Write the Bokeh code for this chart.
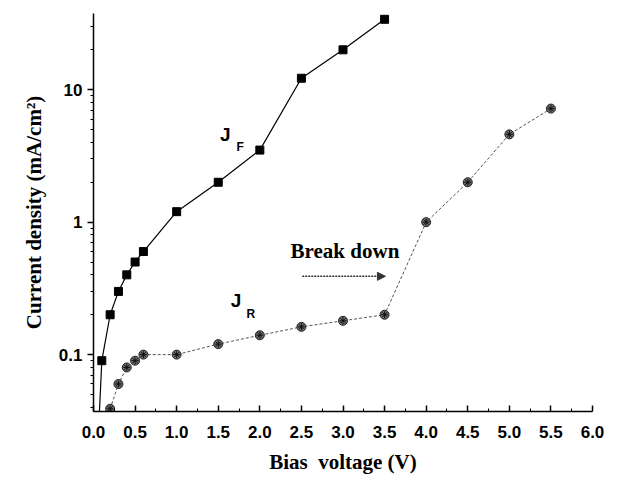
from bokeh.plotting import figure
from bokeh.models import FixedTicker, Label, Arrow, NormalHead, PrintfTickFormatter
from bokeh.embed import file_html
from bokeh.resources import INLINE

# Data
vf = [0.0, 0.1, 0.2, 0.3, 0.4, 0.5, 0.6, 1.0, 1.5, 2.0, 2.5, 3.0, 3.5]
jf = [0.004, 0.09, 0.2, 0.3, 0.4, 0.5, 0.6, 1.2, 2.0, 3.5, 12.2, 20.0, 34.0]
vr = [0.2, 0.3, 0.4, 0.5, 0.6, 1.0, 1.5, 2.0, 2.5, 3.0, 3.5, 4.0, 4.5, 5.0, 5.5]
jr = [0.039, 0.06, 0.08, 0.09, 0.1, 0.1, 0.12, 0.14, 0.162, 0.18, 0.2, 1.0, 2.0, 4.6, 7.2]

x_ticks = [0.0, 0.5, 1.0, 1.5, 2.0, 2.5, 3.0, 3.5, 4.0, 4.5, 5.0, 5.5, 6.0]
x_minor = [0.25, 0.75, 1.25, 1.75, 2.25, 2.75, 3.25, 3.75, 4.25, 4.75, 5.25, 5.75]
y_ticks = [0.1, 1, 10]
y_labels = {0.1: "0.1", 1: "1", 10: "10"}
y_minor = [0.04, 0.05, 0.06, 0.07, 0.08, 0.09,
           0.2, 0.3, 0.4, 0.5, 0.6, 0.7, 0.8, 0.9,
           2, 3, 4, 5, 6, 7, 8, 9, 20, 30]

p = figure(width=609, height=479, y_axis_type="log",
           x_range=(0, 6.0), y_range=(0.0372, 37.6),
           output_backend="svg", toolbar_location=None,
           min_border_left=93, min_border_top=13, min_border_right=17, min_border_bottom=68)
p.outline_line_color = None
p.xgrid.visible = False
p.ygrid.visible = False
p.background_fill_color = "white"
p.border_fill_color = "white"

# Series
p.line(vf, jf, line_color="black", line_width=1.2)
p.scatter(vf, jf, marker="square", size=8, fill_color="black", line_color="black")
p.line(vr, jr, line_color="#555555", line_width=1, line_dash="3 2")
p.scatter(vr, jr, marker="circle", size=9, fill_color="#6e6e6e", line_color="#222222", line_width=1)
p.scatter(vr, jr, marker="asterisk", size=7, line_color="#111111", line_width=1)

# Axes
xa = p.xaxis[0]
xa.ticker = FixedTicker(ticks=x_ticks, minor_ticks=x_minor)
xa.formatter = PrintfTickFormatter(format="%.1f")
xa.major_tick_in = 6
xa.major_tick_out = 0
xa.minor_tick_in = 3
xa.minor_tick_out = 0
xa.axis_line_width = 1.5
xa.major_tick_line_width = 1.5
xa.major_label_standoff = 14
xa.major_label_text_font = "Liberation Sans"
xa.major_label_text_font_style = "bold"
xa.major_label_text_font_size = "17px"
xa.major_label_text_color = "black"
xa.axis_label = "Bias\u00a0 voltage (V)"
xa.axis_label_text_font = "Liberation Serif"
xa.axis_label_text_font_style = "bold"
xa.axis_label_text_font_size = "21px"
xa.axis_label_text_color = "black"
xa.axis_label_standoff = 9

ya = p.yaxis[0]
ya.ticker = FixedTicker(ticks=y_ticks, minor_ticks=y_minor)
ya.major_label_overrides = y_labels
ya.major_tick_in = 0
ya.major_tick_out = 6
ya.minor_tick_in = 0
ya.minor_tick_out = 3
ya.axis_line_width = 1.5
ya.major_tick_line_width = 1.5
ya.major_label_standoff = 5
ya.major_label_text_font = "Liberation Sans"
ya.major_label_text_font_style = "bold"
ya.major_label_text_font_size = "17px"
ya.major_label_text_color = "black"
ya.axis_label = "Current density (mA/cm\u00b2)"
ya.axis_label_text_font = "Liberation Serif"
ya.axis_label_text_font_style = "bold"
ya.axis_label_text_font_size = "21px"
ya.axis_label_text_color = "black"
ya.axis_label_standoff = 10

# Annotations
def lab(x, y, t, font, size, style="bold"):
    p.add_layout(Label(x=x, y=y, text=t, text_font=font, text_font_size=size,
                       text_font_style=style, text_color="black",
                       text_baseline="alphabetic", text_align="left"))

lab(1.52, 4.6, "J", "Liberation Sans", "19px")
lab(1.72, 3.68, "F", "Liberation Sans", "12px")
lab(1.65, 0.255, "J", "Liberation Sans", "19px")
lab(1.84, 0.203, "R", "Liberation Sans", "12px")
lab(2.37, 0.61, "Break down", "Liberation Serif", "21px")

p.add_layout(Arrow(x_start=2.51, y_start=0.39, x_end=3.51, y_end=0.39,
                   line_color="#333333", line_width=1.5, line_dash="2 1",
                   end=NormalHead(size=8, fill_color="#333333", line_color="#333333")))

open("out.html", "w").write(file_html(p, INLINE))
